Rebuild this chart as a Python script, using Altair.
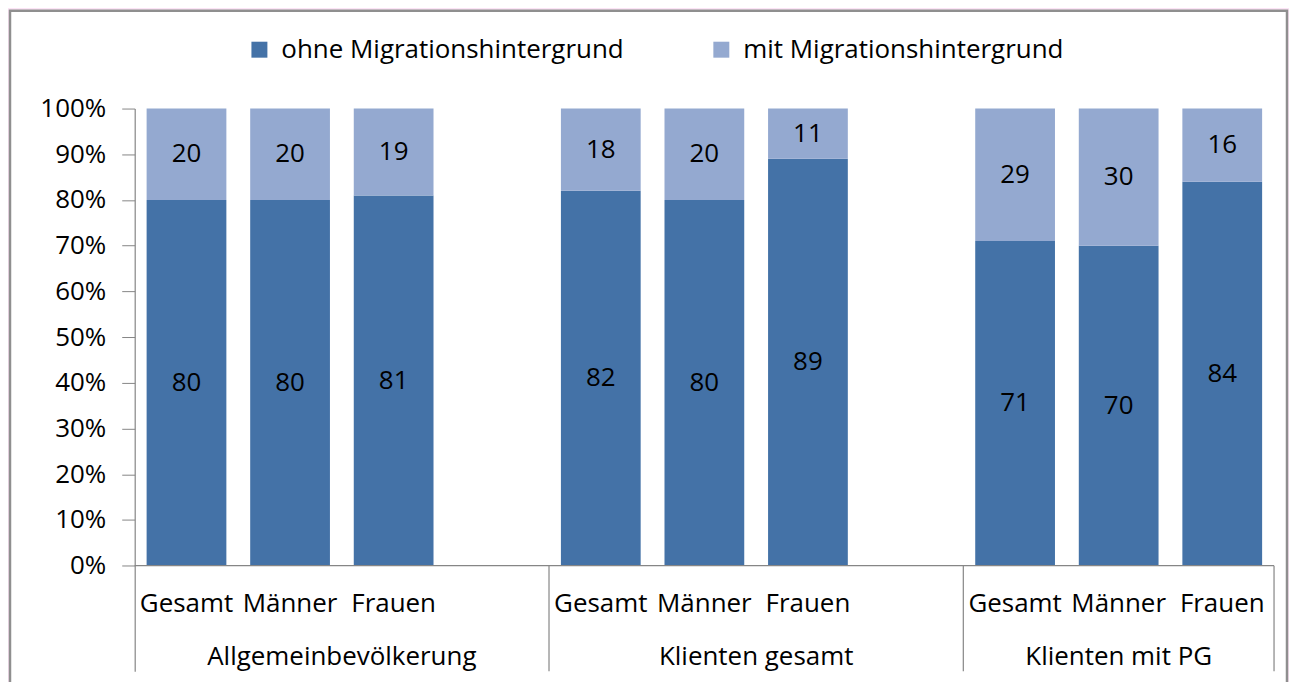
import altair as alt
import pandas as pd

groups = ["Allgemeinbevölkerung", "Klienten gesamt", "Klienten mit PG"]
subs = ["Gesamt", "Männer", "Frauen"]
series = ["ohne Migrationshintergrund", "mit Migrationshintergrund"]
ohne = [80, 80, 81, 82, 80, 89, 71, 70, 84]
mit = [20, 20, 19, 18, 20, 11, 29, 30, 16]
y_ticks = [0, 10, 20, 30, 40, 50, 60, 70, 80, 90, 100]
colors = ["#4472a7", "#94a9d0"]
FONT = "Open Sans"
FS = 26

rows = []
sub_rows = []
for gi, g in enumerate(groups):
    for si, s in enumerate(subs):
        k = gi * 3 + si
        slot = gi * 4 + si
        a, b = ohne[k], mit[k]
        rows.append(dict(group=g, sub=s, series=series[0], v=a, y0=0, y1=a,
                         mid=a / 2, xs=slot + 0.115, xe=slot + 0.885, xc=slot + 0.5))
        rows.append(dict(group=g, sub=s, series=series[1], v=b, y0=a, y1=a + b,
                         mid=a + b / 2, xs=slot + 0.115, xe=slot + 0.885, xc=slot + 0.5))
        sub_rows.append(dict(label=s, xc=slot + 0.5, y=-8.3))
df = pd.DataFrame(rows)
df_sub = pd.DataFrame(sub_rows)
ends = [0, 4, 8, 11]
df_grp = pd.DataFrame(dict(label=groups,
                           xc=[(ends[i] + ends[i + 1]) / 2 for i in range(3)],
                           y=[-20.0] * 3))
df_sep = pd.DataFrame(dict(x=ends[1:], y=[0] * 3, y2=[-23.1] * 3))
df_base = pd.DataFrame(dict(x=[0], x2=[11], y=[0]))

xs = alt.Scale(domain=[0, 11], nice=False, zero=False)
ys = alt.Scale(domain=[-23.1, 100], nice=False, zero=False)

frame = alt.Chart(pd.DataFrame(dict(a=[1]))).mark_rect(
    fill="white", stroke="#8f8f8f", strokeWidth=2.5
).encode(
    x=alt.value(-125), x2=alt.value(1155), y=alt.value(-98), y2=alt.value(640)
)

bars = alt.Chart(df).mark_bar().encode(
    x=alt.X("xs:Q", scale=xs, axis=None),
    x2="xe:Q",
    y=alt.Y("y0:Q", scale=ys, title=None,
            axis=alt.Axis(values=y_ticks, labelExpr="datum.value + '%'",
                          tickSize=13, domainColor="#868686", tickColor="#868686",
                          labelFont=FONT, labelFontSize=FS, labelColor="black",
                          labelPadding=16, grid=False, domainWidth=1.2, zindex=2)),
    y2="y1:Q",
    color=alt.Color("series:N", scale=alt.Scale(domain=series, range=colors),
                    sort=series,
                    legend=alt.Legend(title=None, orient="none", legendX=112, legendY=-72,
                                      direction="horizontal", symbolType="square",
                                      symbolSize=256, symbolStrokeWidth=0,
                                      labelFont=FONT, labelFontSize=FS,
                                      labelColor="black", labelOffset=9,
                                      columnPadding=84, labelLimit=600, padding=0,
                                      zindex=2)),
)

vals = alt.Chart(df).mark_text(font=FONT, fontSize=FS, color="black").encode(
    x=alt.X("xc:Q", scale=xs), y=alt.Y("mid:Q", scale=ys), text="v:Q"
)

base = alt.Chart(df_base).mark_rule(color="#868686", strokeWidth=1.2).encode(
    x=alt.X("x:Q", scale=xs), x2="x2:Q", y=alt.Y("y:Q", scale=ys)
)
seps = alt.Chart(df_sep).mark_rule(color="#868686", strokeWidth=1.2).encode(
    x=alt.X("x:Q", scale=xs), y=alt.Y("y:Q", scale=ys), y2="y2:Q"
)
sublab = alt.Chart(df_sub).mark_text(font=FONT, fontSize=FS, color="black").encode(
    x=alt.X("xc:Q", scale=xs), y=alt.Y("y:Q", scale=ys), text="label:N"
)
grplab = alt.Chart(df_grp).mark_text(font=FONT, fontSize=FS, color="black").encode(
    x=alt.X("xc:Q", scale=xs), y=alt.Y("y:Q", scale=ys), text="label:N"
)

chart = alt.layer(frame, bars, vals, base, seps, sublab, grplab).properties(
    width=1142, height=564,
    autosize=alt.AutoSizeParams(type="none"),
    padding={"left": 127, "top": 100, "right": 15, "bottom": 10},
    background="#fce4f6",
).configure_view(stroke=None)

chart.save("out.html", embed_options={"renderer": "svg", "actions": False})
